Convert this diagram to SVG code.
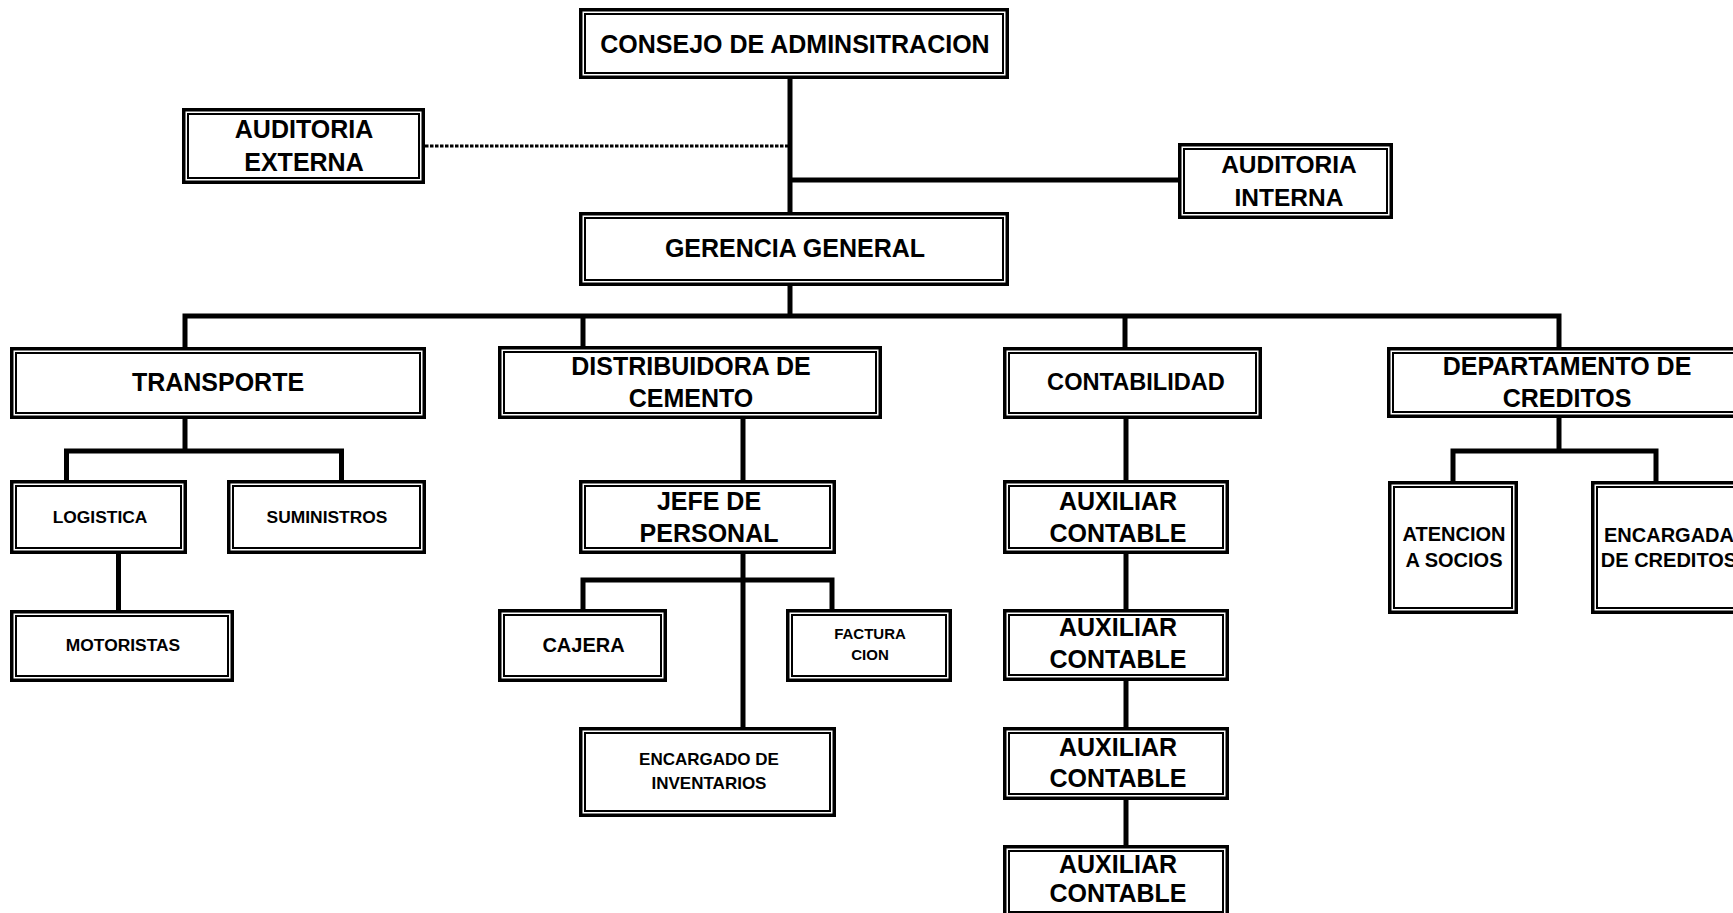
<svg xmlns="http://www.w3.org/2000/svg" width="1733" height="913" viewBox="0 0 1733 913">
<style>
.o{fill:#fff;stroke:#000;stroke-width:3.5}
.i{fill:none;stroke:#000;stroke-width:2}
.c{fill:none;stroke:#000;stroke-width:5;stroke-linejoin:miter}
.d{fill:none;stroke:#000;stroke-width:3;stroke-dasharray:3.5 1.5}
.t{font-family:"Liberation Sans",Arial,Helvetica,sans-serif;font-weight:bold;text-anchor:middle;fill:#000}
.l{font-size:25px}.m{font-size:20px}.s{font-size:17.4px}.x{font-size:15px}
</style>
<rect width="1733" height="913" fill="#fff"/>
<g id="connectors">
<path class="c" d="M790,79 V212"/>
<path class="c" d="M790,180 H1178"/>
<path class="d" d="M425,146 H788"/>
<path class="c" d="M790,286 V316"/>
<path class="c" d="M185,347 V316 H1559 V347"/>
<path class="c" d="M583,316 V346"/>
<path class="c" d="M1125,316 V347"/>
<path class="c" d="M185,419 V451"/>
<path class="c" d="M66.5,480 V451 H341.5 V480"/>
<path class="c" d="M118.5,554 V610"/>
<path class="c" d="M743,419 V480"/>
<path class="c" d="M743,554 V727"/>
<path class="c" d="M583,609 V580 H832 V609"/>
<path class="c" d="M1126,419 V480"/>
<path class="c" d="M1126,554 V609"/>
<path class="c" d="M1126,681 V727"/>
<path class="c" d="M1126,800 V845"/>
<path class="c" d="M1559,417 V451"/>
<path class="c" d="M1453,481 V451 H1656 V481"/>
</g>
<g id="consejo"><rect class="o" x="580.75" y="9.75" width="426.5" height="67.5"/><rect class="i" x="585" y="14" width="418" height="59"/><text class="t l" x="795" y="53">CONSEJO DE ADMINSITRACION</text></g>
<g id="auditoria-externa"><rect class="o" x="183.75" y="109.75" width="239.5" height="72.5"/><rect class="i" x="188" y="114" width="231" height="64"/><text class="t l" x="304" y="138">AUDITORIA</text><text class="t l" x="304" y="171">EXTERNA</text></g>
<g id="auditoria-interna"><rect class="o" x="1179.75" y="144.75" width="211.5" height="72.5"/><rect class="i" x="1184" y="149" width="203" height="64"/><text class="t" style="font-size:24.5px" x="1289" y="173">AUDITORIA</text><text class="t" style="font-size:24.5px" x="1289" y="206">INTERNA</text></g>
<g id="gerencia"><rect class="o" x="580.75" y="213.75" width="426.5" height="70.5"/><rect class="i" x="585" y="218" width="418" height="62"/><text class="t l" x="795" y="257">GERENCIA GENERAL</text></g>
<g id="transporte"><rect class="o" x="11.75" y="348.75" width="412.5" height="68.5"/><rect class="i" x="16" y="353" width="404" height="60"/><text class="t l" x="218" y="391">TRANSPORTE</text></g>
<g id="distribuidora"><rect class="o" x="499.75" y="347.75" width="380.5" height="69.5"/><rect class="i" x="504" y="352" width="372" height="61"/><text class="t l" x="691" y="375">DISTRIBUIDORA DE</text><text class="t l" x="691" y="407">CEMENTO</text></g>
<g id="contabilidad"><rect class="o" x="1004.75" y="348.75" width="255.5" height="68.5"/><rect class="i" x="1009" y="353" width="247" height="60"/><text class="t" style="font-size:23.6px" x="1136" y="390">CONTABILIDAD</text></g>
<g id="departamento-creditos"><rect class="o" x="1388.75" y="348.75" width="355.5" height="67.5"/><rect class="i" x="1393" y="353" width="347" height="59"/><text class="t l" x="1567" y="375">DEPARTAMENTO DE</text><text class="t l" x="1567" y="407">CREDITOS</text></g>
<g id="logistica"><rect class="o" x="11.75" y="481.75" width="173.5" height="70.5"/><rect class="i" x="16" y="486" width="165" height="62"/><text class="t s" x="100" y="523">LOGISTICA</text></g>
<g id="suministros"><rect class="o" x="228.75" y="481.75" width="195.5" height="70.5"/><rect class="i" x="233" y="486" width="187" height="62"/><text class="t s" x="327" y="523">SUMINISTROS</text></g>
<g id="motoristas"><rect class="o" x="11.75" y="611.75" width="220.5" height="68.5"/><rect class="i" x="16" y="616" width="212" height="60"/><text class="t s" x="123" y="651">MOTORISTAS</text></g>
<g id="jefe-personal"><rect class="o" x="580.75" y="481.75" width="253.5" height="70.5"/><rect class="i" x="585" y="486" width="245" height="62"/><text class="t l" x="709" y="510">JEFE DE</text><text class="t l" x="709" y="542">PERSONAL</text></g>
<g id="cajera"><rect class="o" x="499.75" y="610.75" width="165.5" height="69.5"/><rect class="i" x="504" y="615" width="157" height="61"/><text class="t m" x="583.5" y="652">CAJERA</text></g>
<g id="facturacion"><rect class="o" x="787.75" y="610.75" width="162.5" height="69.5"/><rect class="i" x="792" y="615" width="154" height="61"/><text class="t x" x="870" y="639">FACTURA</text><text class="t x" x="870" y="660">CION</text></g>
<g id="encargado-inventarios"><rect class="o" x="580.75" y="728.75" width="253.5" height="86.5"/><rect class="i" x="585" y="733" width="245" height="78"/><text class="t" style="font-size:17px" x="709" y="765">ENCARGADO DE</text><text class="t" style="font-size:17px" x="709" y="789">INVENTARIOS</text></g>
<g id="auxiliar-contable-1"><rect class="o" x="1004.75" y="481.75" width="222.5" height="70.5"/><rect class="i" x="1009" y="486" width="214" height="62"/><text class="t l" x="1118" y="510">AUXILIAR</text><text class="t l" x="1118" y="542">CONTABLE</text></g>
<g id="auxiliar-contable-2"><rect class="o" x="1004.75" y="610.75" width="222.5" height="68.5"/><rect class="i" x="1009" y="615" width="214" height="60"/><text class="t l" x="1118" y="636">AUXILIAR</text><text class="t l" x="1118" y="668">CONTABLE</text></g>
<g id="auxiliar-contable-3"><rect class="o" x="1004.75" y="728.75" width="222.5" height="69.5"/><rect class="i" x="1009" y="733" width="214" height="61"/><text class="t l" x="1118" y="756">AUXILIAR</text><text class="t l" x="1118" y="787">CONTABLE</text></g>
<g id="auxiliar-contable-4"><rect class="o" x="1004.75" y="846.75" width="222.5" height="69.5"/><rect class="i" x="1009" y="851" width="214" height="61"/><text class="t l" x="1118" y="873">AUXILIAR</text><text class="t l" x="1118" y="902">CONTABLE</text></g>
<g id="atencion-socios"><rect class="o" x="1389.75" y="482.75" width="126.5" height="129.5"/><rect class="i" x="1394" y="487" width="118" height="121"/><text class="t m" x="1454" y="541">ATENCION</text><text class="t m" x="1454" y="567">A SOCIOS</text></g>
<g id="encargada-creditos"><rect class="o" x="1592.75" y="482.75" width="152.5" height="129.5"/><rect class="i" x="1597" y="487" width="144" height="121"/><text class="t m" x="1669" y="542">ENCARGADA</text><text class="t m" x="1669" y="567">DE CREDITOS</text></g>
</svg>
